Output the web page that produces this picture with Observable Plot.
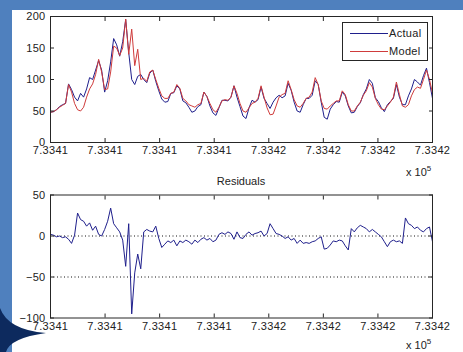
<!DOCTYPE html>
<html><head><meta charset="utf-8">
<script src="https://cdn.jsdelivr.net/npm/d3@7"></script>
<script src="https://cdn.jsdelivr.net/npm/@observablehq/plot@0.6"></script>
<style>
html,body{margin:0;padding:0;background:#fff;}
#stage{position:relative;width:463px;height:352px;overflow:hidden;background:#fff;font-family:"Liberation Sans",Arial,sans-serif;color:#222;}
.abs{position:absolute;}
svg text{letter-spacing:0.3px;}
</style></head><body>
<div id="stage">
  <div id="p1" class="abs" style="left:0;top:0"></div>
  <div id="p2" class="abs" style="left:0;top:175px"></div>
  <div class="abs" style="left:0;top:0;width:463px;height:10px;background:#4f80be"></div>
  <div class="abs" style="left:0;top:0;width:12px;height:352px;background:#4f80be"></div>
  <svg class="abs" style="left:0;top:300px" width="60" height="52"><path d="M0,8 Q8,30 46,33 Q10,38 6,52 L0,52 Z" fill="#0d2a5e"/></svg>
  <div id="legend" class="abs" style="left:342px;top:22px;width:84px;height:37px;border:1px solid #262626;background:#fff;font-size:11px;"></div>
  <div id="resTitle" class="abs" style="left:191px;top:175px;width:100px;text-align:center;font-size:11px;line-height:12px;"></div>
  <div class="abs x10" style="left:406px;top:167px;font-size:11px;line-height:11px;">x 10<span style="font-size:8px;position:relative;top:-5px;">5</span></div>
  <div class="abs x10" style="left:406px;top:340px;font-size:11px;line-height:11px;">x 10<span style="font-size:8px;position:relative;top:-5px;">5</span></div>
</div>
<script>
// ---- data ----
const xTicks = [733411, 733412, 733413, 733414, 733415, 733416, 733417, 733418];
const xTickLabels = ["7.3341","7.3341","7.3341","7.3341","7.3342","7.3342","7.3342","7.3342"];
const tStart = 733411, tEnd = 733418;
const yTicksTop = [0, 50, 100, 150, 200];
const yTicksRes = [-100, -50, 0, 50];
const resRefLines = [0, -50];
const seriesNames = ["Actual", "Model"];
const residualTitle = "Residuals";

const actual = [48,49,52,57,60,62,93,84,72,66,
 78,72,85,103,100,115,130,115,80,98,
 128,165,155,137,160,195,143,100,92,105,
 108,100,95,110,115,97,82,69,64,65,
 78,79,90,85,66,63,56,48,50,57,
 60,80,73,58,47,43,55,67,67,66,
 72,90,72,57,42,38,55,67,64,68,
 88,70,62,54,64,71,75,71,74,94,
 83,64,50,48,60,70,70,75,98,92,
 64,40,37,53,60,65,64,80,74,58,
 47,48,57,63,76,85,100,94,71,65,
 55,49,60,65,70,92,72,60,60,74,
 85,100,96,91,106,118,95,70];

const model = [48,49,52,56,59,62,92,80,62,52,
 50,56,72,85,93,108,132,112,84,85,
 112,153,150,138,150,196,140,180,122,148,
 100,102,97,112,115,100,86,74,70,70,
 78,80,92,86,70,66,60,58,56,60,
 62,80,73,62,52,48,56,66,68,67,
 72,90,78,62,50,48,55,62,64,70,
 90,72,55,44,45,58,72,76,78,98,
 84,68,58,56,62,70,72,80,103,92,
 66,54,53,58,62,66,66,82,76,60,
 50,50,58,64,75,82,95,88,70,60,
 53,52,58,64,72,96,76,58,56,60,
 74,84,88,86,100,115,100,78];

const residual = [2,1,-1,0,-2,-1,-4,-9,1,28,
 20,18,12,16,7,12,2,0,8,18,
 34,15,10,5,-5,-37,15,-95,-45,-22,
 -40,5,8,6,5,12,-3,-14,-10,-6,
 -8,-5,-12,-6,-8,-5,-7,-10,-5,-8,
 -4,-2,-5,-3,-7,-5,2,4,2,5,
 3,-4,5,-2,-3,2,5,1,3,4,
 6,0,3,15,9,3,2,0,-3,-1,
 -5,-3,-9,-5,-9,-8,-9,-7,-6,-3,
 -1,-16,-15,-11,-6,-7,-5,-6,-12,-17,
 9,5,10,13,11,9,5,8,5,2,
 -1,-7,-13,-7,-5,-7,-6,-9,22,15,
 13,9,11,7,5,9,11,-7];

// ---- styles ----
const actualColor = "#1f1f8c";
const modelColor = "#cf3b3b";
const frameColor = "#262626";

const rows = actual.map((v, i) => ({
  t: tStart + i * (tEnd - tStart) / (actual.length - 1),
  actual: v, model: model[i], resid: residual[i]
}));
const fmtX = d => xTickLabels[xTicks.indexOf(d)];
const style = {fontFamily: "'Liberation Sans', Arial, sans-serif", fontSize: "11px", background: "transparent", color: "#222", overflow: "visible"};

const p1 = Plot.plot({
  width: 463, height: 175,
  marginLeft: 50, marginRight: 31, marginTop: 16, marginBottom: 33,
  style,
  x: {domain: [tStart, tEnd], label: null},
  y: {domain: [0, 200], label: null},
  marks: [
    Plot.lineY(rows, {x: "t", y: "actual", stroke: actualColor, strokeWidth: 1}),
    Plot.lineY(rows, {x: "t", y: "model", stroke: modelColor, strokeWidth: 1}),
    Plot.frame({stroke: frameColor}),
    Plot.axisX({anchor: "bottom", ticks: xTicks, tickSize: -4, tickPadding: 8, tickFormat: fmtX, stroke: frameColor, fill: "#222", label: null}),
    Plot.axisX({anchor: "top", ticks: xTicks, tickSize: -4, tickFormat: () => "", stroke: frameColor, label: null}),
    Plot.axisY({anchor: "left", ticks: yTicksTop, tickSize: -4, tickPadding: 9, stroke: frameColor, fill: "#222", label: null}),
    Plot.axisY({anchor: "right", ticks: yTicksTop, tickSize: -4, tickFormat: () => "", stroke: frameColor, label: null})
  ]
});
document.getElementById("p1").appendChild(p1);

const p2 = Plot.plot({
  width: 463, height: 177,
  marginLeft: 50, marginRight: 31, marginTop: 19.5, marginBottom: 34.5,
  style,
  x: {domain: [tStart, tEnd], label: null},
  y: {domain: [-100, 50], label: null},
  marks: [
    Plot.ruleY(resRefLines, {stroke: "#111", strokeDasharray: "1,2.5"}),
    Plot.lineY(rows, {x: "t", y: "resid", stroke: actualColor, strokeWidth: 1}),
    Plot.frame({stroke: frameColor}),
    Plot.axisX({anchor: "bottom", ticks: xTicks, tickSize: -4, tickPadding: 8, tickFormat: fmtX, stroke: frameColor, fill: "#222", label: null}),
    Plot.axisX({anchor: "top", ticks: xTicks, tickSize: -4, tickFormat: () => "", stroke: frameColor, label: null}),
    Plot.axisY({anchor: "left", ticks: yTicksRes, tickSize: -4, tickPadding: 9, stroke: frameColor, fill: "#222", label: null}),
    Plot.axisY({anchor: "right", ticks: yTicksRes, tickSize: -4, tickFormat: () => "", stroke: frameColor, label: null})
  ]
});
document.getElementById("p2").appendChild(p2);

document.getElementById("resTitle").textContent = residualTitle;

// legend
const legend = document.getElementById("legend");
const legendColors = [actualColor, modelColor];
seriesNames.forEach((name, k) => {
  const top = k === 0 ? 10 : 28;
  const line = document.createElement("div");
  line.className = "abs";
  line.style.cssText = `left:7px;top:${top}px;width:38px;height:1px;background:${legendColors[k]}`;
  legend.appendChild(line);
  const txt = document.createElement("div");
  txt.className = "abs";
  txt.style.cssText = `left:46px;top:${top - 6}px;line-height:12px;letter-spacing:0.3px`;
  txt.textContent = name;
  legend.appendChild(txt);
});
</script>
</body></html>
